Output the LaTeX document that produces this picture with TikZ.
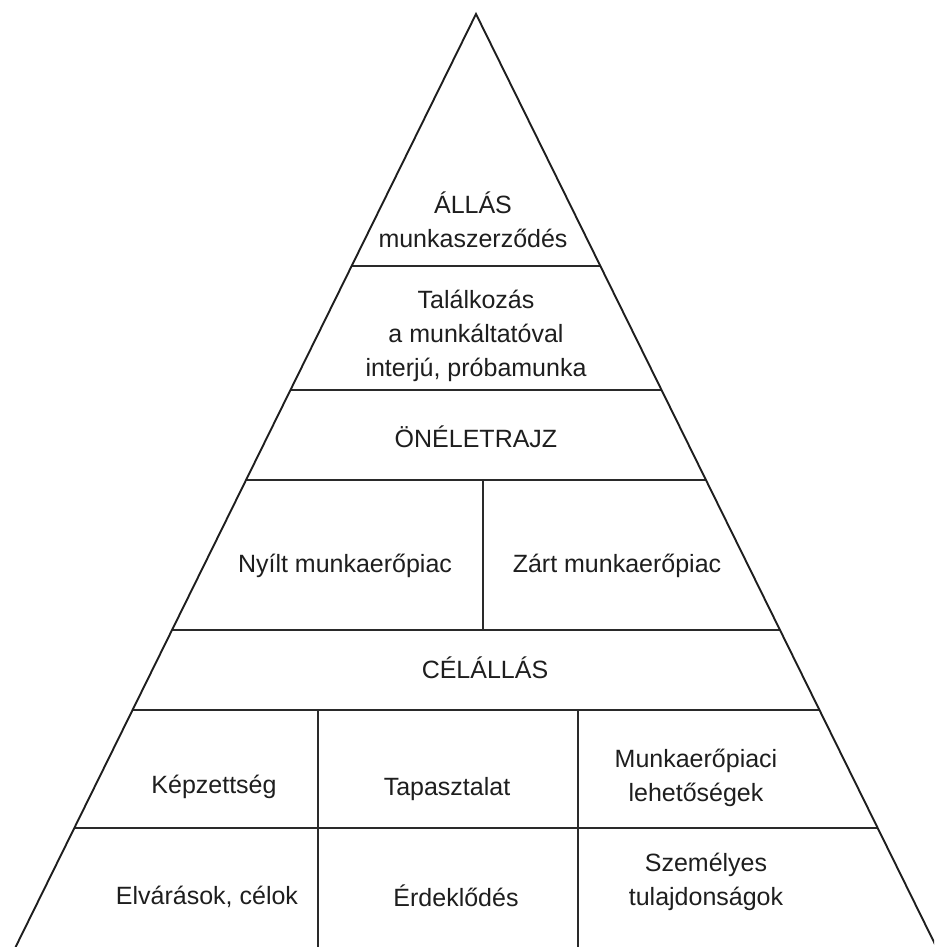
\documentclass[tikz,border=0pt]{standalone}
\usepackage{fontspec}
\setmainfont{Liberation Sans}
\usetikzlibrary{calc}
\definecolor{ink}{HTML}{1E1E1E}
\definecolor{rule}{HTML}{2A2A2A}
\begin{document}
\begin{tikzpicture}[x=1pt,y=-1pt,
  edge/.style={draw=ink,line width=1.9pt,line cap=round},
  sep/.style={draw=rule,line width=1.5pt},
  lbl/.style={text=ink,align=center,inner sep=0pt,font=\fontsize{25}{34}\selectfont}]
\useasboundingbox[fill=white] (0,0) rectangle (934,947);
% triangle corners
\coordinate (apex) at (476,14);
\coordinate (bl) at (15.6,947);
\coordinate (br) at (936.4,947);
% left / right points of separators
\foreach \n/\y in {a/266,b/390,c/480,d/630,e/710,f/828}{
  \coordinate (L\n) at ($(apex)!{(\y-14)/933}!(bl)$);
  \coordinate (R\n) at ($(apex)!{(\y-14)/933}!(br)$);
}
\begin{scope}
\clip (0,0) rectangle (934,947);
\draw[sep] (La) -- (Ra);
\draw[sep] (Lb) -- (Rb);
\draw[sep] (Lc) -- (Rc);
\draw[sep] (Ld) -- (Rd);
\draw[sep] (Le) -- (Re);
\draw[sep] (Lf) -- (Rf);
\coordinate (v1t) at (483,480); \coordinate (v1b) at (483,630);
\coordinate (v2t) at (318,710); \coordinate (v2b) at (318,947);
\coordinate (v3t) at (578,710); \coordinate (v3b) at (578,947);
\draw[sep] (v1t) -- (v1b);
\draw[sep] (v2t) -- (v2b);
\draw[sep] (v3t) -- (v3b);
\draw[edge] (bl) -- (apex) -- (br);
\end{scope}
% labels
\node[lbl] (allas) at (473,220) {ÁLLÁS\\munkaszerződés};
\node[lbl] (talal) at (476,336) {Találkozás\\a munkáltatóval\\interjú, próbamunka};
\node[lbl] (oneletrajz) at (476,437) {ÖNÉLETRAJZ};
\node[lbl] (nyilt) at (345,566) {Nyílt munkaerőpiac};
\node[lbl] (zart) at (617,566) {Zárt munkaerőpiac};
\node[lbl] (celallas) at (485,668) {CÉLÁLLÁS};
\node[lbl] (kepz) at (214,787) {Képzettség};
\node[lbl] (tapasz) at (447,789) {Tapasztalat};
\node[lbl] (munkaer) at (696,778) {Munkaerőpiaci\\lehetőségek};
\node[lbl] (elvar) at (207,897) {Elvárások, célok};
\node[lbl] (erdek) at (456,896) {Érdeklődés};
\node[lbl] (szem) at (706,882) {Személyes\\tulajdonságok};
\end{tikzpicture}
\end{document}
